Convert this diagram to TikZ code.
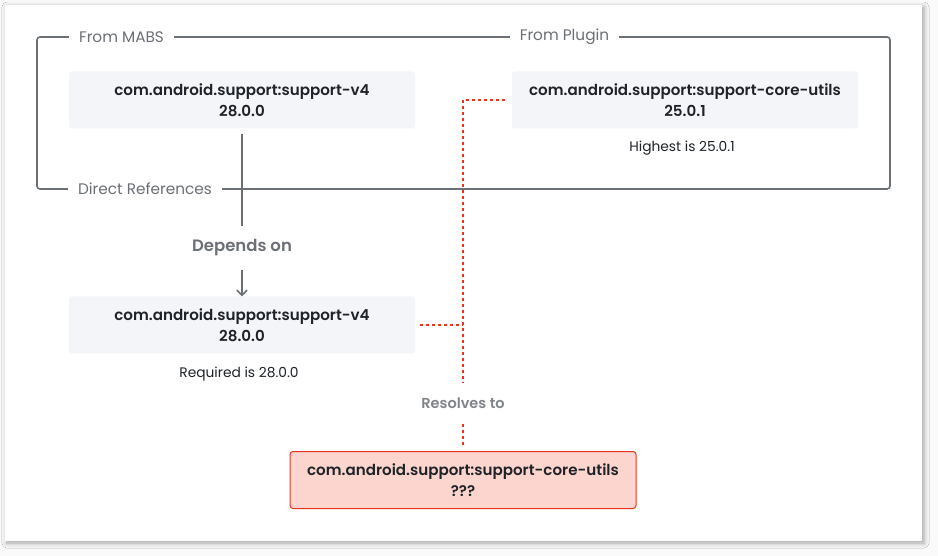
\documentclass[tikz,border=0pt]{standalone}
\usepackage{fontspec}
\setmainfont{Poppins}[BoldFont={Poppins SemiBold}]
\usetikzlibrary{arrows.meta,shadows.blur}
\definecolor{grayline}{HTML}{6B6F76}
\definecolor{boxfill}{HTML}{F4F5F8}
\definecolor{textdark}{HTML}{1F2329}
\definecolor{redline}{HTML}{E8341C}
\definecolor{redfill}{HTML}{FCD5CE}
\definecolor{labelgray}{HTML}{6B6F76}
\tikzset{
  pkg/.style={rectangle, rounded corners=3pt, fill=boxfill, minimum width=346pt, minimum height=57pt, inner sep=0pt, align=center, text=textdark, font=\bfseries\fontsize{15.1}{21}\selectfont},
  pkgred/.style={pkg, fill=redfill, draw=redline, line width=1pt},
  grplabel/.style={fill=white, inner xsep=10pt, inner ysep=2pt, text=labelgray, font=\fontsize{15.3}{17}\selectfont},
  note/.style={text=textdark, font=\fontsize{13.8}{16}\selectfont},
  edgelabel/.style={minimum height=43pt, inner ysep=0pt, text=labelgray, font=\bfseries\fontsize{16.5}{18}\selectfont},
  reslabel/.style={minimum height=41pt, inner ysep=0pt, text=labelgray!85!white, font=\bfseries\fontsize{14.5}{16}\selectfont},
  grayconn/.style={draw=grayline, line width=1.6pt},
  redconn/.style={draw=redline, line width=1.6pt, dash pattern=on 3pt off 3pt},
}
\begin{document}
\begin{tikzpicture}[x=1pt,y=-1pt]
\useasboundingbox (0,0) rectangle (938,556);
\fill[white!98!black] (0,0) rectangle (938,556);
\fill[white, blur shadow={shadow xshift=2pt, shadow yshift=-2pt, shadow blur radius=5pt, shadow opacity=35}] (5,5) rectangle (922,541);
% group frame
\draw[grayconn, rounded corners=3pt] (37,37) rectangle (890,189);
\node[grplabel] (gmabs) at (121.5,37) {From MABS};
\node[grplabel] (gplug) at (564.5,37) {From Plugin};
\node[grplabel] (gdir) at (145,189) {Direct References};
% packages
\node[pkg] (n1) at (242,100) {com.android.support:support-v4\\28.0.0};
\node[pkg] (n2) at (685,100) {com.android.support:support-core-utils\\25.0.1};
\node[note] (hi) at (682,148) {Highest is 25.0.1};
\node[edgelabel] (dep) at (242,248) {Depends on};
\node[pkg] (n3) at (242,325) {com.android.support:support-v4\\28.0.0};
\node[note] (req) at (239,374) {Required is 28.0.0};
\node[reslabel] (res) at (463,403.5) {Resolves to};
\node[pkgred] (n4) at (463,480) {com.android.support:support-core-utils\\???};
% connectors
\draw[grayconn, shorten <=5pt] (n1.south) -- (dep.north);
\draw[grayconn, -{Straight Barb[length=5pt,width=10pt]}] (dep.south) -- (n3.north);
\draw[redconn, shorten <=7pt] (n2.west) -| (res.north);
\draw[redconn, shorten <=5pt] (n3.east) -- (n3.east -| res.north);
\draw[redconn, shorten >=6pt] (res.south) -- (n4.north);
\end{tikzpicture}
\end{document}
